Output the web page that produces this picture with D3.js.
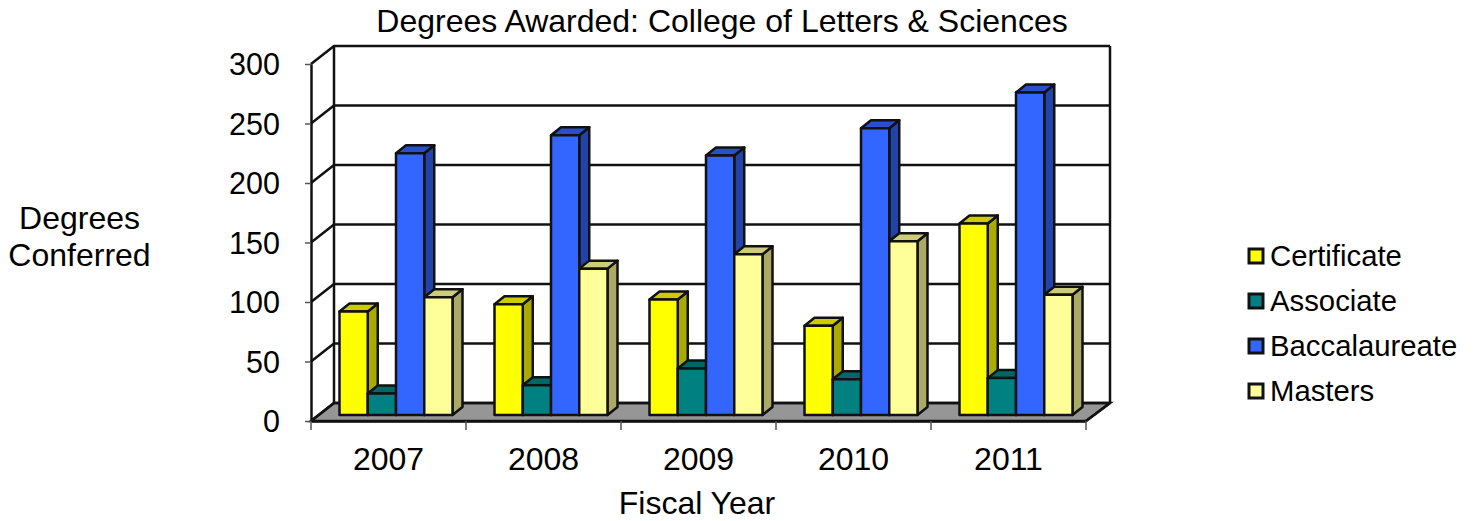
<!DOCTYPE html>
<html>
<head>
<meta charset="utf-8">
<script src="https://cdn.jsdelivr.net/npm/d3@7/dist/d3.min.js"></script>
<style>
  html, body { margin: 0; padding: 0; background: #fff; }
  svg { display: block; font-family: "Liberation Sans", Arial, sans-serif; fill: #000; }
</style>
</head>
<body>
<div id="chart"></div>
<script>
const years = ["2007", "2008", "2009", "2010", "2011"];
const seriesNames = ["Certificate", "Associate", "Baccalaureate", "Masters"];
const certificate = [87, 93, 97, 75, 161];
const associate = [18, 25, 39, 30, 31];
const baccalaureate = [220, 235, 218, 241, 271];
const masters = [99, 123, 135, 146, 101];
const seriesValues = [certificate, associate, baccalaureate, masters];
const yTicks = [0, 50, 100, 150, 200, 250, 300];

const frontColors = ["#ffff00", "#008080", "#3366ff", "#ffff99"];
const topColors = ["#cccc00", "#006666", "#2850c8", "#cccc7a"];
const sideColors = ["#aaaa00", "#005555", "#2244aa", "#aaaa66"];

const width = 1476;
const height = 521;
const ink = "#111";
const fontSize = 32;

// front plane of the box, and how far back the walls sit
const y = d3.scaleLinear().domain([0, 300]).range([421, 64]);
const x = d3.scaleBand().domain(years).range([311, 1086]);
const wallDx = 24;
const wallDy = -18;

// bars stand part of the way into the floor
const barDx = 8;
const barDy = -6;
const depthDx = 10;
const depthDy = -8;
const inner = d3.scaleBand().domain(seriesNames).range([20.5, 133.5]);

const svg = d3.select("#chart").append("svg")
  .attr("width", width)
  .attr("height", height)
  .attr("viewBox", `0 0 ${width} ${height}`);

const poly = (pts) => "M" + pts.map((p) => p.join(",")).join("L") + "Z";

// floor
const x0 = x.range()[0];
const x1 = x.range()[1];
svg.append("path")
  .attr("d", poly([[x0, y(0)], [x1, y(0)], [x1 + wallDx, y(0) + wallDy], [x0 + wallDx - 1, y(0) + wallDy]]))
  .attr("fill", "#969696")
  .attr("stroke", ink)
  .attr("stroke-width", 2.5);

// back wall and side wall grid
const grid = svg.append("g").attr("fill", "none").attr("stroke", ink).attr("stroke-width", 2.5);
yTicks.forEach((t) => {
  grid.append("path").attr("d", `M${x0},${y(t)}L${x0 + wallDx - 1},${y(t) + wallDy}L${x1 + wallDx},${y(t) + wallDy}`);
});
grid.append("path").attr("d", `M${x0 + wallDx - 1},${y(0) + wallDy}V${y(300) + wallDy}`);
grid.append("path").attr("d", `M${x1 + wallDx},${y(0) + wallDy}V${y(300) + wallDy}`);
grid.append("path").attr("d", `M${x1},${y(0)}L${x1 + wallDx},${y(0) + wallDy}`);

// axes
const yAxis = svg.append("g")
  .attr("transform", `translate(${x0},0)`)
  .call(d3.axisLeft(y).tickValues(yTicks).tickSize(6).tickPadding(25).tickSizeOuter(0));
yAxis.select(".domain").attr("stroke", ink).attr("stroke-width", 2.5);
yAxis.selectAll(".tick line").attr("stroke", "#555").attr("stroke-width", 1.5);
yAxis.selectAll(".tick text").attr("font-size", 30.5).attr("fill", "#000").attr("font-family", "Liberation Sans").attr("dy", "0.36em");

const xAxis = svg.append("g")
  .attr("transform", `translate(0,${y(0)})`)
  .call(d3.axisBottom(x).tickSize(0).tickPadding(0));
xAxis.select(".domain").attr("stroke", ink).attr("stroke-width", 2.5);
xAxis.selectAll(".tick text").attr("font-size", fontSize).attr("fill", "#000").attr("font-family", "Liberation Sans").attr("y", 37).attr("dy", "0.36em");
// ticks between the categories
xAxis.selectAll("line.sep").data(years.concat(["end"])).enter().append("line")
  .attr("class", "sep")
  .attr("x1", (d, i) => (i < years.length ? x(d) : x1))
  .attr("x2", (d, i) => (i < years.length ? x(d) : x1))
  .attr("y1", 0)
  .attr("y2", 9)
  .attr("stroke", "#555")
  .attr("stroke-width", 1.5);

// bars, left to right so the next bar hides the side of the one before
const bars = svg.append("g").attr("stroke", ink).attr("stroke-width", 2.5).attr("stroke-linejoin", "round");
years.forEach((yr, i) => {
  seriesNames.forEach((name, s) => {
    const left = x(yr) + barDx + inner(name);
    const right = left + inner.bandwidth();
    const base = y(0) + barDy;
    const top = y(seriesValues[s][i]) + barDy;
    const b = bars.append("g");
    b.append("path")
      .attr("d", poly([[right, base], [right + depthDx, base + depthDy], [right + depthDx, top + depthDy], [right, top]]))
      .attr("fill", sideColors[s]);
    b.append("path")
      .attr("d", poly([[left, top], [left + depthDx, top + depthDy], [right + depthDx, top + depthDy], [right, top]]))
      .attr("fill", topColors[s]);
    b.append("rect")
      .attr("x", left)
      .attr("y", top)
      .attr("width", right - left)
      .attr("height", base - top)
      .attr("fill", frontColors[s]);
  });
});

// titles
svg.append("text").attr("x", 722).attr("y", 32).attr("text-anchor", "middle").attr("font-size", fontSize)
  .text("Degrees Awarded: College of Letters & Sciences");
svg.append("text").attr("x", 697).attr("y", 514).attr("text-anchor", "middle").attr("font-size", fontSize)
  .text("Fiscal Year");
const yTitle = svg.append("text").attr("text-anchor", "middle").attr("font-size", fontSize);
yTitle.append("tspan").attr("x", 79.5).attr("y", 229).text("Degrees");
yTitle.append("tspan").attr("x", 79.5).attr("y", 266).text("Conferred");

// legend
const legendY = d3.scalePoint().domain(seriesNames).range([256, 391]);
const legend = svg.append("g");
seriesNames.forEach((name, s) => {
  legend.append("rect")
    .attr("x", 1249)
    .attr("y", legendY(name) - 7)
    .attr("width", 14)
    .attr("height", 14)
    .attr("fill", frontColors[s])
    .attr("stroke", ink)
    .attr("stroke-width", 3);
  legend.append("text")
    .attr("x", 1270)
    .attr("y", legendY(name) + 10)
    .attr("font-size", 29.3)
    .text(name);
});
</script>
</body>
</html>
